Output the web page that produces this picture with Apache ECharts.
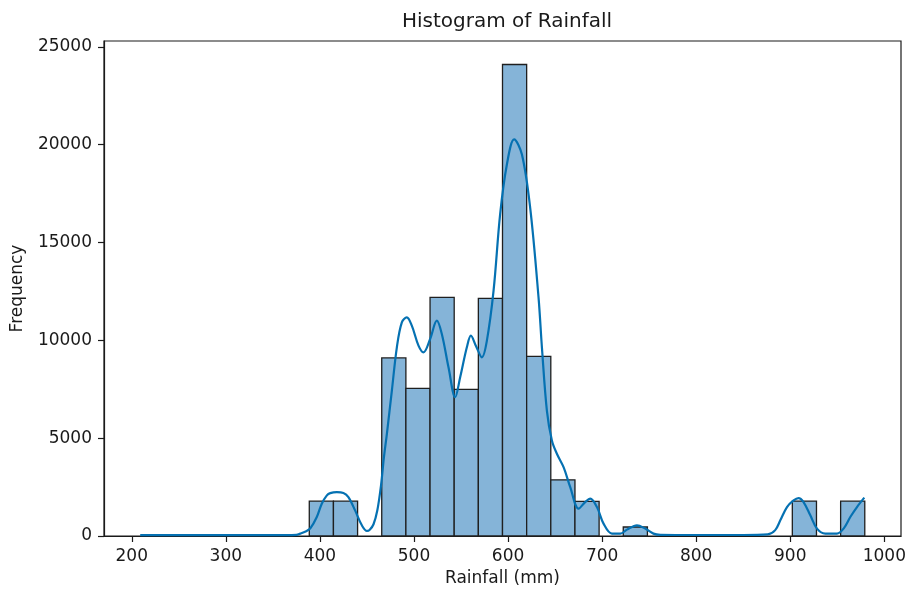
<!DOCTYPE html>
<html>
<head>
<meta charset="utf-8">
<title>Histogram of Rainfall</title>
<script src="https://cdn.jsdelivr.net/npm/echarts@6/dist/echarts.min.js"></script>
<style>
  html, body { margin: 0; padding: 0; background: #fff; }
  #chart { width: 907px; height: 591px; }
</style>
</head>
<body>
<div id="chart"></div>
<script>
// Histogram: 30 equal-width bins between the smallest and largest rainfall
const rainMin = 209.0;
const rainMax = 979.2;
const binCount = 30;
const binCounts = [
  0, 0, 0, 0, 0, 0, 0, 1780, 1780, 0,
  9100, 7550, 12200, 7490, 12150, 24100, 9180, 2870, 1770, 0,
  460, 0, 0, 0, 0, 0, 0, 1780, 0, 1780
];

// Kernel density estimate, scaled to counts: [rainfall, frequency]
const kdeX = [
  209, 250, 300, 350, 375, 379, 386, 390, 396.7, 402, 407.4, 411, 418, 425, 430.3,
  437.4, 444.6, 450, 453, 457, 461, 465, 468, 471.2, 476.5, 481.8, 487.1, 492.4,
  497.7, 504.8, 510.1, 517.2, 524.3, 529.6, 536.7, 543.8, 549.1, 556.2, 560.5,
  566, 572.2, 577.5, 584.6, 591.6, 598.8, 606.5, 614.7, 623.5, 632.4, 636,
  641.3, 646.6, 651.9, 659, 666.1, 675, 682, 687.4, 694.5, 701.5, 710.4, 719.3,
  726.4, 737, 745.8, 754.6, 761.8, 800, 850, 876, 884, 889.4, 896.5, 903.5, 908.8,
  914.1, 921.3, 928.4, 937.2, 949.6, 956.7, 963.8, 970.9, 978.7
];
const kdeY = [
  40, 40, 40, 40, 60, 120, 260, 400, 970, 1650, 2075, 2190, 2240, 2200, 1990,
  1310, 546, 260, 320, 600, 1300, 2600, 4000, 5224, 7434, 9643, 10918, 11173,
  10750, 9730, 9388, 10070, 11005, 10326, 8622, 7092, 8112, 9643, 10240,
  9700, 9133, 9985, 12536, 16449, 19000, 20276, 19510, 16786, 12194, 9643,
  6400, 4883, 4204, 3520, 2500, 1398, 1735, 1908, 1480, 633, 122, 122,
  326, 546, 378, 122, 60, 50, 50, 80, 300, 800, 1480, 1820, 1940,
  1735, 1056, 378, 122, 122, 378, 970, 1480, 1960
];

const xTicks = [200, 300, 400, 500, 600, 700, 800, 900, 1000];
const yTicks = [0, 5000, 10000, 15000, 20000, 25000];

const binWidth = (rainMax - rainMin) / binCount;
const bins = binCounts
  .map((c, i) => [rainMin + i * binWidth, rainMin + (i + 1) * binWidth, c])
  .filter(b => b[2] > 0);
const kde = kdeX.map((x, i) => [x, kdeY[i]]);

const textColor = '#1a1a1a';
const font = 'DejaVu Sans';
const plain = v => String(v);

const chart = echarts.init(document.getElementById('chart'), null, { renderer: 'canvas' });
chart.setOption({
  backgroundColor: '#ffffff',
  animation: false,
  textStyle: { fontFamily: font },
  title: {
    text: 'Histogram of Rainfall',
    left: 502, top: 7, textAlign: 'center',
    textStyle: { fontFamily: font, fontSize: 20, fontWeight: 'normal', color: textColor }
  },
  grid: {
    left: 104, top: 41, right: 6, bottom: 55,
    outerBoundsMode: 'none', containLabel: false,
    show: true, borderColor: '#1a1a1a', borderWidth: 1.2, backgroundColor: 'transparent'
  },
  xAxis: {
    type: 'value', min: 170.5, max: 1017.7,
    name: 'Rainfall (mm)', nameLocation: 'middle', nameGap: 34,
    nameTextStyle: { fontFamily: font, fontSize: 17, color: textColor },
    axisLine: { show: true, lineStyle: { color: '#1a1a1a', width: 1.2 } },
    axisTick: { show: true, length: 6, lineStyle: { color: '#1a1a1a', width: 1.2 }, customValues: xTicks },
    axisLabel: { margin: 12, fontFamily: font, fontSize: 17, color: textColor, customValues: xTicks, formatter: plain },
    splitLine: { show: false }
  },
  yAxis: {
    type: 'value', min: 0, max: 25300,
    name: 'Frequency', nameLocation: 'middle', nameGap: 78, nameRotate: 90,
    nameTextStyle: { fontFamily: font, fontSize: 17, color: textColor },
    axisLine: { show: true, lineStyle: { color: '#1a1a1a', width: 1.2 } },
    axisTick: { show: true, length: 6, lineStyle: { color: '#1a1a1a', width: 1.2 }, customValues: yTicks },
    axisLabel: { margin: 12, fontFamily: font, fontSize: 17, color: textColor, customValues: yTicks, formatter: plain },
    splitLine: { show: false }
  },
  series: [
    {
      type: 'custom',
      name: 'Rainfall',
      data: bins,
      encode: { x: [0, 1], y: 2 },
      renderItem: function (params, api) {
        const top = api.coord([api.value(0), api.value(2)]);
        const bottom = api.coord([api.value(1), 0]);
        return {
          type: 'rect',
          shape: { x: top[0], y: top[1], width: bottom[0] - top[0], height: bottom[1] - top[1] },
          style: { fill: '#85b4d8', stroke: '#1f1f1f', lineWidth: 1.3 }
        };
      },
      z: 2
    },
    {
      type: 'line',
      name: 'KDE',
      data: kde,
      showSymbol: false,
      smooth: 0.35,
      lineStyle: { color: '#0571b2', width: 2.2 },
      z: 3
    }
  ]
});
</script>
</body>
</html>
